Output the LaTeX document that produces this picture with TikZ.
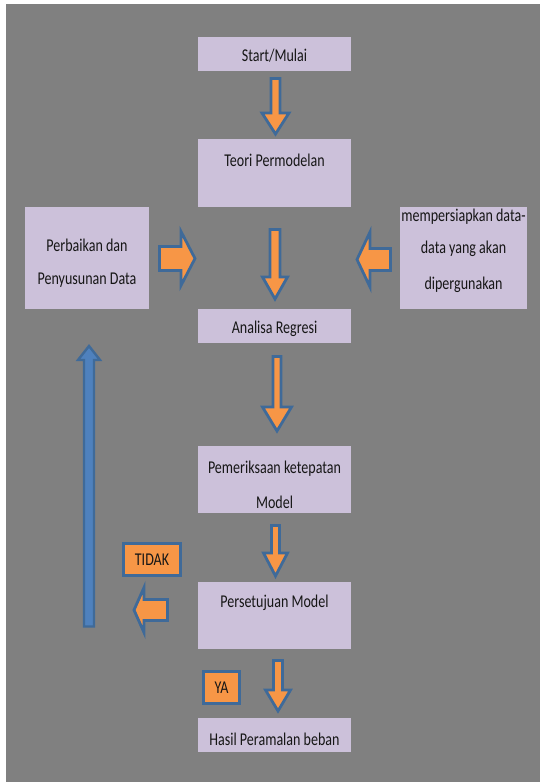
\documentclass[tikz,border=0pt]{standalone}
\usepackage{fontspec}
\setmainfont{Carlito}[FakeStretch=0.78]
\definecolor{bggray}{HTML}{808080}
\definecolor{lav}{HTML}{CCC1DA}
\definecolor{orng}{HTML}{F79646}
\definecolor{edgeblue}{HTML}{3F6A99}
\definecolor{fillblue}{HTML}{4F81BD}
\definecolor{txtc}{HTML}{161616}
\newcommand{\varrow}[7][]{%
  \draw[blockarrow,#1] ({#2-#6},#3) -- ({#2+#6},#3) -- ({#2+#6},#4) -- ({#2+#7},#4) -- (#2,#5) -- ({#2-#7},#4) -- ({#2-#6},#4) -- cycle;}
\newcommand{\harrow}[7][]{%
  \draw[blockarrow,#1] (#3,{#2-#6}) -- (#3,{#2+#6}) -- (#4,{#2+#6}) -- (#4,{#2+#7}) -- (#5,#2) -- (#4,{#2-#7}) -- (#4,{#2-#6}) -- cycle;}
\begin{document}
\begin{tikzpicture}[x=1pt,y=-1pt,
  box/.style={fill=lav, draw=none, inner sep=0pt, minimum width=153pt},
  txt/.style={text=txtc, font=\fontsize{18}{33}\selectfont, align=center, inner sep=0pt},
  blockarrow/.style={fill=orng, draw=edgeblue, line width=2.8pt, line join=miter},
  bluearrow/.style={fill=fillblue, draw=edgeblue, line width=2.4pt},
  tag/.style={fill=orng, draw=edgeblue, line width=2.8pt, inner sep=0pt, text=txtc, font=\fontsize{18}{20}\selectfont}]
\useasboundingbox (0,0) rectangle (540,782);
\fill[white] (0,0) rectangle (540,782);
\fill[bggray] (6,4) rectangle (540,782);
% boxes
\node[box, minimum height=34pt] (start) at (274.5,54) {};
\node[txt] (startT) at (274.5,56) {Start/Mulai};
\node[box, minimum height=68pt] (teori) at (274.5,173) {};
\node[txt] (teoriT) at (274.5,160) {Teori Permodelan};
\node[box, minimum width=124pt, minimum height=102pt] (perb) at (87,258) {};
\node[txt] (perbT) at (87,263) {Perbaikan dan\\Penyusunan Data};
\node[box, minimum width=127pt, minimum height=102pt] (prep) at (463.5,258) {};
\node[txt] (prepT) at (463.5,251) {mempersiapkan data-\\[-1pt]data yang akan\\[3pt]dipergunakan};
\node[box, minimum height=34pt] (anal) at (274.5,326) {};
\node[txt] (analT) at (274.5,329) {Analisa Regresi};
\node[box, minimum height=67pt] (pem) at (274.5,479.5) {};
\node[txt] (pemT) at (274.5,485) {Pemeriksaan ketepatan\\[2pt]Model};
\node[box, minimum height=67pt] (pers) at (274.5,615.5) {};
\node[txt] (persT) at (274.5,603) {Persetujuan Model};
\node[box, minimum height=34pt] (hasil) at (274.5,735) {};
\node[txt] (hasilT) at (274.5,739) {Hasil Peramalan beban};
% tags
\node[tag, minimum width=57pt, minimum height=32pt] (tidak) at (152,559.5) {TIDAK};
\node[tag, minimum width=36pt, minimum height=32pt] (ya) at (221.5,687.5) {YA};
% block arrows
\varrow{275.5}{78.5}{113}{134}{4.5}{13.5}
\varrow{275}{229.5}{277}{299}{5}{12.5}
\varrow{277}{356.5}{407}{431}{4}{14.5}
\varrow{275.5}{525.5}{553}{576}{4}{12}
\varrow{278}{660.5}{690}{711}{4.5}{12.5}
\harrow{258.5}{159.5}{181}{195}{12}{27}
\harrow{259.5}{390.5}{370}{357}{11}{27.5}
\harrow{610}{167.5}{144}{134}{10.5}{22.5}
\varrow[bluearrow]{89}{626.5}{360}{346}{5}{11}
\end{tikzpicture}
\end{document}
